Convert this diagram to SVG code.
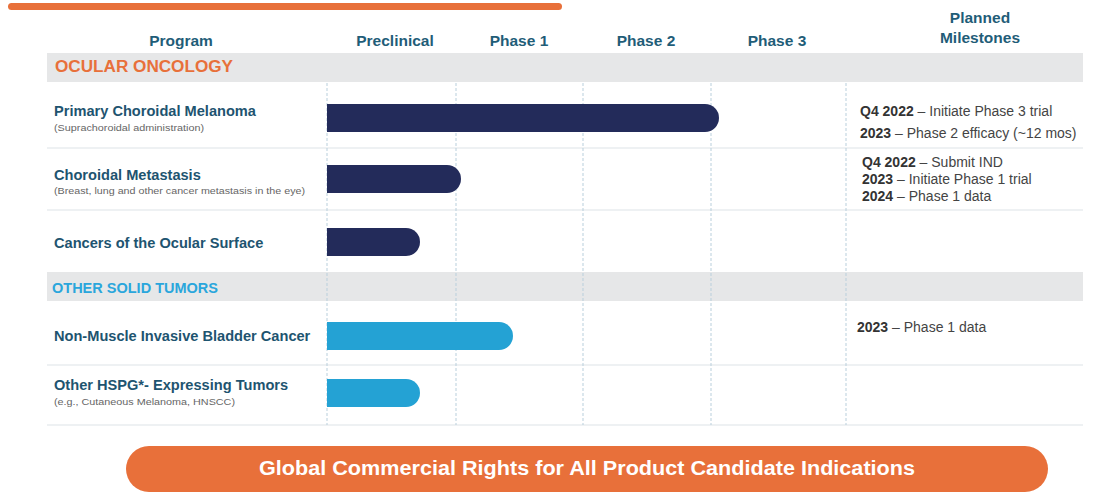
<svg xmlns="http://www.w3.org/2000/svg" width="1096" height="492" viewBox="0 0 1096 492">
<style>
.hdr{font-family:"Liberation Sans",Arial,sans-serif;font-weight:bold;font-size:15.5px;fill:#1f5d78;text-anchor:middle}
.lbl{font-family:"Liberation Sans",Arial,sans-serif;font-weight:bold;font-size:14.6px;fill:#1e5470}
.sub{font-family:"Liberation Sans",Arial,sans-serif;font-size:9px;fill:#666}
.ms{font-family:"Liberation Sans",Arial,sans-serif;font-size:14px;fill:#444}
.ms tspan.b{font-weight:bold;fill:#333}
.sec{font-family:"Liberation Sans",Arial,sans-serif;font-weight:bold}
.band{fill:#e6e7e8}
.hline{stroke:#e8ecef;stroke-width:1.5}
.vline{stroke:#b9cfdc;stroke-width:1;stroke-dasharray:3,2}
.navy{fill:#232b5a}
.blue{fill:#24a2d4}
</style>
<rect x="8" y="3" width="554" height="7" rx="3.5" fill="#e8703a"/>
<g id="headers">
<text class="hdr" x="181" y="46">Program</text>
<text class="hdr" x="395" y="46">Preclinical</text>
<text class="hdr" x="519" y="46">Phase 1</text>
<text class="hdr" x="646" y="46">Phase 2</text>
<text class="hdr" x="777" y="46">Phase 3</text>
<text class="hdr" x="980" y="23">Planned</text>
<text class="hdr" x="980" y="43">Milestones</text>
</g>
<g id="grid">
<rect class="band" x="47" y="53" width="1036" height="29"/>
<rect class="band" x="47" y="272" width="1036" height="29"/>
<line class="hline" x1="47" y1="148" x2="1083" y2="148"/>
<line class="hline" x1="47" y1="210" x2="1083" y2="210"/>
<line class="hline" x1="47" y1="365" x2="1083" y2="365"/>
<line class="hline" x1="47" y1="425" x2="1083" y2="425"/>
<line class="vline" x1="327" y1="83" x2="327" y2="425"/>
<line class="vline" x1="456" y1="83" x2="456" y2="425"/>
<line class="vline" x1="583" y1="83" x2="583" y2="425"/>
<line class="vline" x1="711" y1="83" x2="711" y2="425"/>
<line class="vline" x1="846" y1="83" x2="846" y2="425"/>
</g>
<g id="section-ocular">
<text class="sec" x="55" y="72" fill="#e8703a" font-size="16" textLength="178" lengthAdjust="spacingAndGlyphs">OCULAR ONCOLOGY</text>
</g>
<g id="section-other">
<text class="sec" x="52" y="292.5" fill="#2aa6dc" font-size="14.5" textLength="166" lengthAdjust="spacingAndGlyphs">OTHER SOLID TUMORS</text>
</g>
<g id="row-pcm">
<text class="lbl" x="54" y="116">Primary Choroidal Melanoma</text>
<text class="sub" x="54" y="131" textLength="150" lengthAdjust="spacingAndGlyphs">(Suprachoroidal administration)</text>
<path class="navy" d="M327 104 H705 A14 14 0 0 1 705 132 H327 Z"/>
<text class="ms" x="860" y="116"><tspan class="b">Q4 2022</tspan> – Initiate Phase 3 trial</text>
<text class="ms" x="860" y="138"><tspan class="b">2023</tspan> – Phase 2 efficacy (~12 mos)</text>
</g>
<g id="row-cm">
<text class="lbl" x="54" y="180">Choroidal Metastasis</text>
<text class="sub" x="54" y="194" textLength="251" lengthAdjust="spacingAndGlyphs">(Breast, lung and other cancer metastasis in the eye)</text>
<path class="navy" d="M327 165 H447 A14 14 0 0 1 447 193 H327 Z"/>
<text class="ms" x="862" y="167"><tspan class="b">Q4 2022</tspan> – Submit IND</text>
<text class="ms" x="862" y="184"><tspan class="b">2023</tspan> – Initiate Phase 1 trial</text>
<text class="ms" x="862" y="201"><tspan class="b">2024</tspan> – Phase 1 data</text>
</g>
<g id="row-cos">
<text class="lbl" x="54" y="248">Cancers of the Ocular Surface</text>
<path class="navy" d="M327 228 H406 A14 14 0 0 1 406 256 H327 Z"/>
</g>
<g id="row-nmibc">
<text class="lbl" x="54" y="341">Non-Muscle Invasive Bladder Cancer</text>
<path class="blue" d="M327 322 H499 A14 14 0 0 1 499 350 H327 Z"/>
<text class="ms" x="857" y="332"><tspan class="b">2023</tspan> – Phase 1 data</text>
</g>
<g id="row-hspg">
<text class="lbl" x="54" y="390">Other HSPG*- Expressing Tumors</text>
<text class="sub" x="54" y="405" textLength="181" lengthAdjust="spacingAndGlyphs">(e.g., Cutaneous Melanoma, HNSCC)</text>
<path class="blue" d="M327 379 H406 A14 14 0 0 1 406 407 H327 Z"/>
</g>
<g id="footer">
<rect x="126" y="446" width="922" height="46" rx="23" fill="#e8703a"/>
<text x="587" y="475" font-family="Liberation Sans,Arial,sans-serif" font-weight="bold" font-size="20" fill="#fff" text-anchor="middle" textLength="656" lengthAdjust="spacingAndGlyphs">Global Commercial Rights for All Product Candidate Indications</text>
</g>
</svg>
